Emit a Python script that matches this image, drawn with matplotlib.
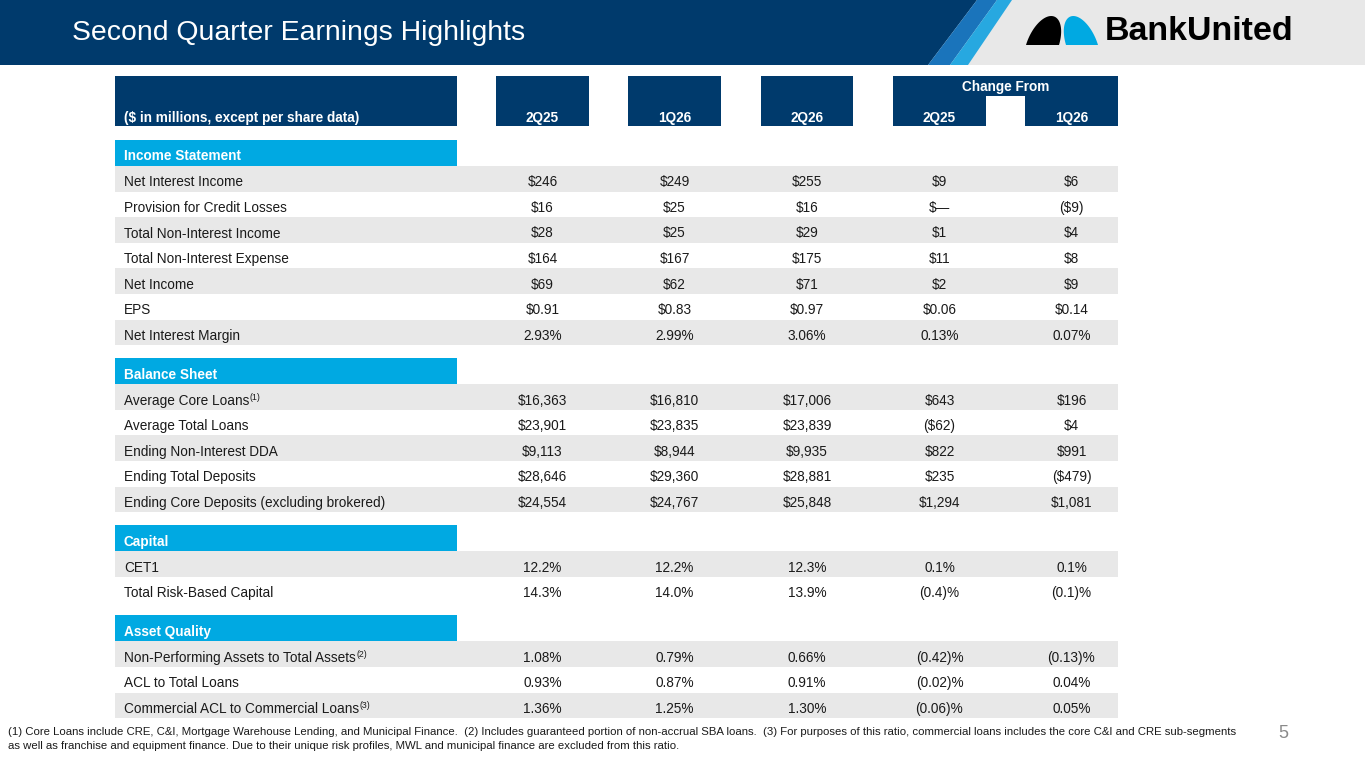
import numpy as np
import matplotlib
matplotlib.use("Agg")
import matplotlib.pyplot as plt
from matplotlib.patches import Rectangle, Polygon

plt.rcParams['font.family'] = ['Liberation Sans', 'DejaVu Sans']

# table data
col_heads = ["2Q25", "1Q26", "2Q26", "2Q25", "1Q26"]
sections = ["Income Statement", "Balance Sheet", "Capital", "Asset Quality"]
section_sizes = [7, 5, 2, 3]
row_labels = ["Net Interest Income", "Provision for Credit Losses", "Total Non-Interest Income",
              "Total Non-Interest Expense", "Net Income", "EPS", "Net Interest Margin",
              "Average Core Loans", "Average Total Loans", "Ending Non-Interest DDA",
              "Ending Total Deposits", "Ending Core Deposits (excluding brokered)",
              "CET1", "Total Risk-Based Capital",
              "Non-Performing Assets to Total Assets", "ACL to Total Loans",
              "Commercial ACL to Commercial Loans"]
row_notes = ["", "", "", "", "", "", "",
             "(1)", "", "", "", "",
             "", "",
             "(2)", "", "(3)"]
val_2q25 = ["$246", "$16", "$28", "$164", "$69", "$0.91", "2.93%",
            "$16,363", "$23,901", "$9,113", "$28,646", "$24,554",
            "12.2%", "14.3%", "1.08%", "0.93%", "1.36%"]
val_1q26 = ["$249", "$25", "$25", "$167", "$62", "$0.83", "2.99%",
            "$16,810", "$23,835", "$8,944", "$29,360", "$24,767",
            "12.2%", "14.0%", "0.79%", "0.87%", "1.25%"]
val_2q26 = ["$255", "$16", "$29", "$175", "$71", "$0.97", "3.06%",
            "$17,006", "$23,839", "$9,935", "$28,881", "$25,848",
            "12.3%", "13.9%", "0.66%", "0.91%", "1.30%"]
chg_2q25 = ["$9", "$\u2014", "$1", "$11", "$2", "$0.06", "0.13%",
            "$643", "($62)", "$822", "$235", "$1,294",
            "0.1%", "(0.4)%", "(0.42)%", "(0.02)%", "(0.06)%"]
chg_1q26 = ["$6", "($9)", "$4", "$8", "$9", "$0.14", "0.07%",
            "$196", "$4", "$991", "($479)", "$1,081",
            "0.1%", "(0.1)%", "(0.13)%", "0.04%", "0.05%"]

footnote1 = ("(1) Core Loans include CRE, C&I, Mortgage Warehouse Lending, and Municipal Finance.  "
             "(2) Includes guaranteed portion of non-accrual SBA loans.  (3) For purposes of this ratio, "
             "commercial loans includes the core C&I and CRE sub-segments")
footnote2 = ("as well as franchise and equipment finance. Due to their unique risk profiles, "
             "MWL and municipal finance are excluded from this ratio.")

NAVY = "#003a6c"
CYAN = "#00a9e2"
MID = "#1a74bb"
LIGHT = "#27a8e0"
GRAY = "#e8e8e8"
INK = "#1a1a1a"

W, H = 1365, 768
fig = plt.figure(figsize=(13.65, 7.68), dpi=100)
ax = fig.add_axes([0, 0, 1, 1])
ax.set_xlim(0, W)
ax.set_ylim(H, 0)
ax.axis('off')

# top banner
ax.add_patch(Rectangle((0, 0), W, 65, color=GRAY, lw=0))
ax.add_patch(Polygon([(0, 0), (977, 0), (928, 65), (0, 65)], color=NAVY, lw=0))
ax.add_patch(Polygon([(977, 0), (997, 0), (950, 65), (928, 65)], color=MID, lw=0))
ax.add_patch(Polygon([(997, 0), (1012, 0), (968, 65), (950, 65)], color=LIGHT, lw=0))
ax.text(72, 33, "Second Quarter Earnings Highlights", color='white', fontsize=20.4, va='center')

# logo arches (leaning towards each other)
def arch(x0, x1, top, lean, base=45, n=60):
    t = np.linspace(0, np.pi, n)
    cx = (x0 + x1) / 2
    a = (x1 - x0) / 2
    yy = base - (base - top) * np.sin(t)
    xx = cx + a * np.cos(t) + lean * (base - yy)
    return np.column_stack([xx, yy])

ax.add_patch(Polygon(arch(1026, 1059, 16, 0.3), color='black', lw=0))
ax.add_patch(Polygon(arch(1066, 1098, 16, -0.3), color=CYAN, lw=0))
ax.text(1105, 31.5, "BankUnited", fontsize=24.5, fontweight='bold', color='black', va='center')

# table layout
lab_x0, lab_x1 = 115, 457
col_spans = [(496, 589), (628, 721), (761, 853), (893, 986), (1025, 1118)]
col_centers = [(a + b) / 2 for a, b in col_spans]
fs = 9.8

# header
ax.add_patch(Rectangle((lab_x0, 76), lab_x1 - lab_x0, 50, color=NAVY, lw=0))
for a, b in col_spans[:3]:
    ax.add_patch(Rectangle((a, 76), b - a, 50, color=NAVY, lw=0))
ax.add_patch(Rectangle((893, 76), 1118 - 893, 50, color=NAVY, lw=0))
ax.add_patch(Rectangle((986, 96), 1025 - 986, 30, color='white', lw=0))
ax.text((893 + 1118) / 2, 91.5, "Change From", color='white', fontsize=fs, fontweight='bold',
        ha='center', va='baseline')
ax.text(124, 122, "($ in millions, except per share data)", color='white', fontsize=fs,
        fontweight='bold', va='baseline')
for c, h in zip(col_centers, col_heads):
    ax.text(c, 122, h, color='white', fontsize=fs, fontweight='bold', ha='center', va='baseline')

fig.canvas.draw()
renderer = fig.canvas.get_renderer()
inv = ax.transData.inverted()

row_h = 25.6
band_h = 26
y = 140
r = 0
for sec, size in zip(sections, section_sizes):
    ax.add_patch(Rectangle((lab_x0, y), lab_x1 - lab_x0, band_h, color=CYAN, lw=0))
    ax.text(124, y + 20.5, sec, color='white', fontsize=fs, fontweight='bold', va='baseline')
    y += band_h
    for i in range(size):
        yb = y + row_h / 2 + 7.5
        if i % 2 == 0:
            ax.add_patch(Rectangle((lab_x0, y), 1118 - lab_x0, row_h, color=GRAY, lw=0))
        t = ax.text(124, yb, row_labels[r], color=INK, fontsize=fs, va='baseline')
        if row_notes[r]:
            bb = t.get_window_extent(renderer)
            xe = inv.transform((bb.x1, bb.y0))[0]
            ax.text(xe + 0.5, yb - 5, row_notes[r], color=INK, fontsize=6.3, va='baseline')
        vals = [val_2q25[r], val_1q26[r], val_2q26[r], chg_2q25[r], chg_1q26[r]]
        for c, v in zip(col_centers, vals):
            ax.text(c, yb, v, color=INK, fontsize=fs, ha='center', va='baseline')
        y += row_h
        r += 1
    y += 13

# footnotes and page number
ax.text(8, 732, footnote1, fontsize=8.2, color=INK, va='center')
ax.text(8, 746, footnote2, fontsize=8.2, color=INK, va='center')
ax.text(1283, 733, "5", fontsize=13, color='#8a8a8a', ha='center', va='center')

fig.savefig("out.png", dpi=100)
